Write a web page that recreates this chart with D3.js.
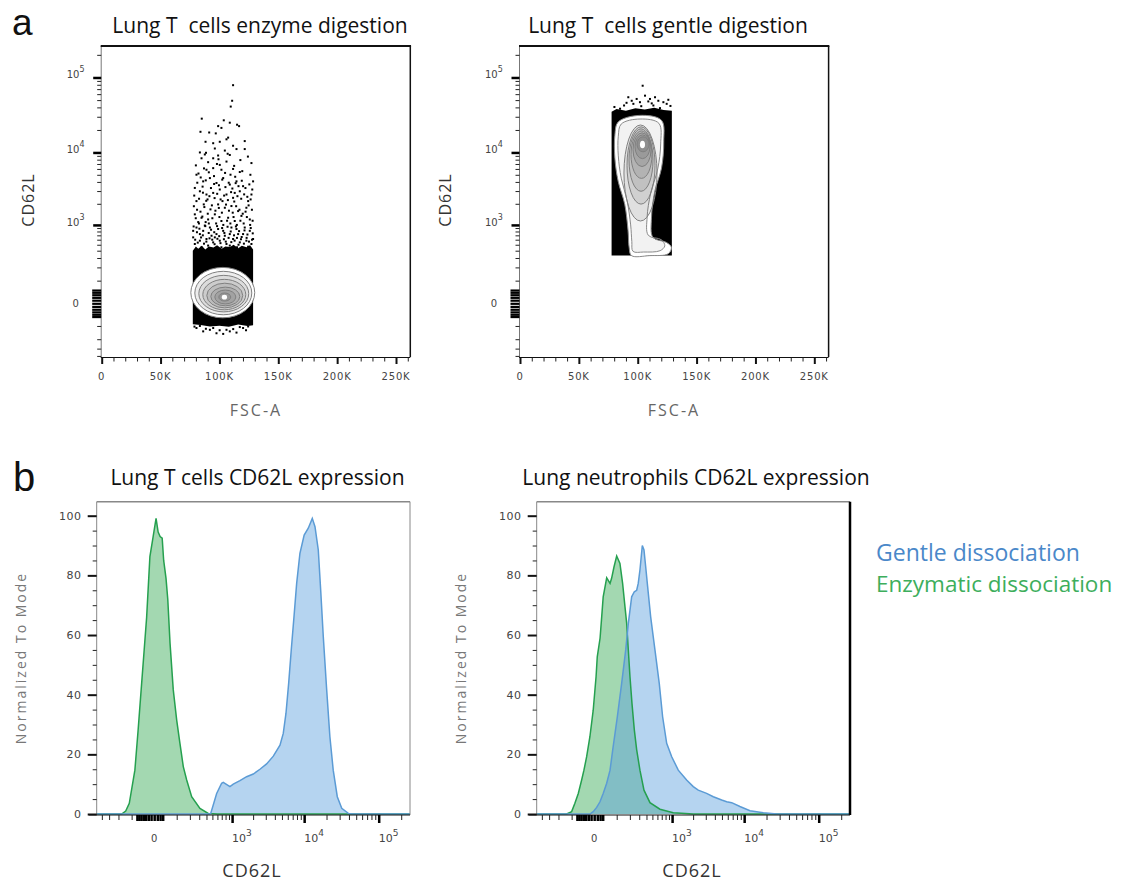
<!DOCTYPE html>
<html>
<head>
<meta charset="utf-8">
<script src="https://cdn.jsdelivr.net/npm/d3@7"></script>
<style>
  body { margin: 0; background: #fff; }
  svg { display: block; }
  text { font-family: "Open Sans", "Noto Sans", sans-serif; }
</style>
</head>
<body>
<svg id="fig" width="1134" height="881"></svg>
<script>
//1) Data

// panel a : FSC-A (linear) vs CD62L (biexponential)
const fscTicks = [0, 50000, 100000, 150000, 200000, 250000]
const fscLabels = ['0', '50K', '100K', '150K', '200K', '250K']
const cdDecades = [1e3, 1e4, 1e5]
const cdDecadeLabels = ['3', '4', '5']

// enzyme digestion : dense black core of events [FSC, CD62L]
const enzymeDense = [[77.4e3, 400], [80e3, 470], [82e3, 430], [85e3, 480], [88e3, 420], [91e3, 470], [95e3, 450],
  [98e3, 490], [102e3, 430], [105e3, 470], [109e3, 460], [112e3, 500], [116e3, 440], [119e3, 480],
  [123e3, 455], [126e3, 490], [128.6e3, 420], [128.6e3, -95], [124e3, -100], [116e3, -92], [108e3, -105],
  [100e3, -98], [92e3, -104], [84e3, -94], [77.4e3, -90]]

// enzyme digestion : single events above / below the core [FSC, CD62L]
const enzymeDots = [
  [111.6e3, 79000], [110.8e3, 49000], [109.6e3, 41000], [85.0e3, 28300], [103.7e3, 26900], [108.8e3, 25000],
  [115.0e3, 23500], [98.9e3, 22500], [101.7e3, 21300], [116.7e3, 22500], [83.9e3, 18900], [91.3e3, 18500],
  [96.9e3, 18000], [107.4e3, 15800], [121.5e3, 14200], [88.2e3, 13900], [100.3e3, 13900], [106.0e3, 15000],
  [94.7e3, 13300], [111.6e3, 12300], [114.5e3, 11100], [83.4e3, 10000], [87.6e3, 9400], [96.1e3, 11300],
  [98.9e3, 9100], [104.6e3, 10600], [108.8e3, 9250], [121.5e3, 11100], [80.0e3, 6700], [84.8e3, 8350],
  [90.4e3, 7400], [94.7e3, 6150], [100.3e3, 6800], [106.0e3, 7540], [111.6e3, 6000], [117.3e3, 5450],
  [127.2e3, 7200], [80.5e3, 5010], [86.2e3, 4070], [91.9e3, 4510], [97.5e3, 3870], [103.2e3, 4510],
  [108.8e3, 3680], [114.5e3, 4070], [120.1e3, 3500], [83.4e3, 2980], [89.0e3, 2690], [94.7e3, 2830],
  [100.3e3, 3150], [106.0e3, 2690], [111.6e3, 2420], [117.3e3, 2980], [124.4e3, 2180], [80.5e3, 2180],
  [86.7e3, 1960], [92.4e3, 1670], [98.9e3, 1960], [104.6e3, 1760], [110.2e3, 1860], [115.9e3, 1580],
  [122.9e3, 1760], [79.1e3, 1420], [84.8e3, 1270], [90.4e3, 1200], [96.1e3, 1420], [101.7e3, 1140],
  [107.4e3, 1270], [113.0e3, 1140], [118.7e3, 1350], [125.8e3, 1200], [80.5e3, 916], [86.2e3, 818],
  [91.9e3, 916], [97.5e3, 731], [103.2e3, 818], [108.8e3, 731], [114.5e3, 870], [120.1e3, 731],
  [125.8e3, 818], [77.7e3, 652], [83.4e3, 579], [89.0e3, 615], [94.7e3, 545], [100.3e3, 579],
  [106.0e3, 514], [111.6e3, 615], [117.3e3, 545], [122.9e3, 579], [127.2e3, 514], [82.0e3, 1100],
  [87.6e3, 980], [93.3e3, 690], [98.9e3, 870], [104.6e3, 690], [110.2e3, 916], [115.9e3, 731],
  [121.5e3, 916], [79.1e3, 514], [84.8e3, 455], [90.4e3, 485], [96.1e3, 652], [101.7e3, 455],
  [108.8e3, 485], [115.0e3, 455], [124.4e3, 465], [128.6e3, 615], [77.7e3, 818], [83.4e3, 731],
  [89.9e3, 2300], [102.6e3, 2180], [113.0e3, 2830], [127.2e3, 2690], [79.1e3, 3310], [128.6e3, 4070],
  [89.0e3, 5850], [109.4e3, 5010], [94.7e3, 8350], [101.7e3, 5850],
  [81.2e3, 3900], [85.7e3, 3450], [88.4e3, 4200], [92.8e3, 3300], [95.5e3, 3750], [99.6e3, 3600],
  [102.4e3, 4300], [105.1e3, 3400], [107.9e3, 3900], [111.0e3, 3250], [113.8e3, 3850], [116.2e3, 3500],
  [119.0e3, 4150], [122.1e3, 3300], [125.4e3, 3700], [127.9e3, 3150], [78.6e3, 2600], [82.7e3, 2350],
  [86.0e3, 2850], [88.8e3, 2200], [91.5e3, 2550], [95.9e3, 2400], [98.1e3, 2750], [101.0e3, 2300],
  [104.0e3, 2600], [107.2e3, 2250], [109.9e3, 2900], [112.6e3, 2150], [115.3e3, 2550], [118.5e3, 2350],
  [121.0e3, 2700], [123.7e3, 2500], [126.5e3, 2300], [78.3e3, 1850], [81.0e3, 1650], [83.9e3, 1550],
  [87.2e3, 1800], [90.1e3, 1450], [93.6e3, 1900], [96.6e3, 1600], [99.5e3, 1750], [102.1e3, 1500],
  [105.6e3, 1950], [108.1e3, 1600], [111.3e3, 1500], [114.2e3, 1850], [117.0e3, 1650], [119.8e3, 1450],
  [122.2e3, 1550], [124.8e3, 1900], [127.6e3, 1650], [79.9e3, 1250], [82.6e3, 1050], [85.5e3, 1320],
  [88.3e3, 1100], [91.0e3, 1050], [94.0e3, 1250], [97.2e3, 1050], [100.0e3, 1300], [103.3e3, 1000],
  [106.5e3, 1150], [109.3e3, 1050], [112.0e3, 1300], [114.8e3, 1000], [117.8e3, 1150], [120.6e3, 1050],
  [123.3e3, 1300], [126.1e3, 1000], [128.2e3, 1150], [78.1e3, 950], [80.9e3, 780], [83.0e3, 880],
  [85.9e3, 700], [88.0e3, 960], [90.9e3, 760], [92.9e3, 850], [95.6e3, 780], [98.0e3, 960], [99.8e3, 680],
  [102.3e3, 900], [104.2e3, 760], [106.9e3, 940], [109.6e3, 800], [112.4e3, 700], [114.0e3, 950],
  [116.7e3, 810], [118.9e3, 660], [121.3e3, 830], [123.8e3, 720], [126.6e3, 900], [128.3e3, 750],
  [79.4e3, 600], [81.6e3, 540], [84.4e3, 650], [86.9e3, 520], [88.9e3, 560], [91.6e3, 630], [93.9e3, 600],
  [95.9e3, 510], [98.3e3, 620], [100.9e3, 530], [103.8e3, 610], [105.4e3, 560], [107.8e3, 640],
  [110.1e3, 550], [112.9e3, 580], [114.9e3, 640], [116.2e3, 500], [118.3e3, 610], [120.8e3, 520],
  [123.1e3, 640], [125.1e3, 560], [127.7e3, 600], [82.2e3, 5200], [86.9e3, 6100], [91.0e3, 5400],
  [97.9e3, 7000], [104.8e3, 5300], [112.5e3, 6600], [119.4e3, 5600], [124.2e3, 8800], [88.6e3, 9900],
  [99.2e3, 8100], [107.0e3, 9600], [117.8e3, 7900], [84.1e3, 4600], [95.4e3, 4800], [113.4e3, 4700],
  [126.3e3, 5000],
  [80.5e3, -113], [86.2e3, -136], [91.9e3, -125], [97.5e3, -150], [103.2e3, -155], [108.8e3, -136],
  [114.5e3, -145], [120.1e3, -113], [83.4e3, -100], [94.7e3, -113], [106.0e3, -125], [117.3e3, -107],
  [124.4e3, -103], [88.5e3, -118], [100.2e3, -128], [111.7e3, -120], [122.6e3, -128], [78.8e3, -104]]

// enzyme digestion : contour levels, outermost first [FSC lo, FSC hi, CD62L lo, CD62L hi]
const enzymeRings = [
  [75.7e3, 130.0e3, -56, 200], [79.1e3, 127.5e3, -42, 166], [82.5e3, 124.9e3, -30, 135],
  [85.9e3, 122.4e3, -22, 108], [89.3e3, 119.8e3, -15, 85], [92.7e3, 117.3e3, -8, 64],
  [96.1e3, 113.9e3, -2, 50], [99.5e3, 109.6e3, 7, 37]]
const enzymeCore = [102.0e3, 106.5e3, 12, 30]

// gentle digestion
const gentleDense = [[77.8e3, 330], [77.8e3, 35000], [82e3, 38000], [90e3, 36000], [98e3, 39000], [106e3, 37500],
  [114e3, 39500], [122e3, 37000], [129e3, 36000], [129e3, 330]]

const gentleDots = [
  [104.2e3, 77700], [92.0e3, 54600], [99.1e3, 51800], [106.2e3, 57300], [110.4e3, 51800], [117.5e3, 49000],
  [121.8e3, 46900], [126.0e3, 50500], [85.0e3, 38400], [88.4e3, 42400], [96.3e3, 44600], [101.9e3, 46900],
  [113.3e3, 42400], [118.9e3, 39100], [124.6e3, 44600], [82.1e3, 34800], [109.0e3, 48000], [114.7e3, 54600],
  [94.9e3, 49000], [80.2e3, 40500], [90.5e3, 46000], [103.0e3, 41500], [111.9e3, 45200], [127.8e3, 41800]]

// gentle digestion : two outer contours traced as outlines [FSC, CD62L]
const gentleOuter = [
  [[83.4e3, 25600], [101.8e3, 31300], [120.2e3, 26900], [122.1e3, 13900], [120.2e3, 6140], [114.5e3, 2980],
   [111.7e3, 1270], [113.0e3, 650], [124.4e3, 544], [128.6e3, 454], [125.8e3, 354], [110.2e3, 330],
   [94.7e3, 330], [92.7e3, 454], [91.8e3, 820], [89.0e3, 1960], [83.4e3, 4070], [80.6e3, 8350], [80.6e3, 17000]],
  [[86e3, 24000], [102e3, 28000], [118e3, 24500], [119.5e3, 13000], [117e3, 6000], [111e3, 2800],
   [108e3, 1300], [109e3, 700], [120e3, 600], [123e3, 480], [119e3, 400], [105e3, 380], [96e3, 390],
   [95e3, 560], [94e3, 1000], [91e3, 2200], [86e3, 4500], [83.5e3, 9000], [83.5e3, 16500]]]

// gentle digestion : inner contour levels [FSC lo, FSC hi, CD62L lo, CD62L hi]
const gentleRings = [
  [88.3e3, 116.4e3, 1140, 23300], [90.9e3, 114.7e3, 1980, 22000], [92.6e3, 113.0e3, 2980, 20700],
  [94.3e3, 112.1e3, 4470, 19400], [96.0e3, 111.3e3, 6460, 18300], [97.7e3, 110.4e3, 8260, 17200],
  [99.4e3, 109.6e3, 10200, 16200]]
const gentleCore = [101.9e3, 106.2e3, 11400, 14400]

// panel b : histograms [CD62L, % of mode]
const modeTicks = [0, 20, 40, 60, 80, 100]

const tcellEnzymatic = [[-486, 0], [-172, 0], [-140, 1], [-115, 3.6], [-81, 14.7], [-64, 28], [-47, 43.8],
  [-36, 55], [-26, 66], [-14, 86.3], [-5, 91.8], [6, 99.1], [13, 94.5], [20, 93], [28, 92.5], [34, 85],
  [44, 79], [52, 72], [63, 57.2], [80, 41.6], [100, 31.5], [121, 23.7], [145, 15.9], [172, 11.4],
  [217, 5.8], [309, 1.9], [428, 0.2], [600, 0], [262144, 0]]

const tcellGentle = [[-486, 0], [440, 0], [470, 0.2], [584, 6.9], [697, 10.3], [738, 10.6], [930, 9.2],
  [1040, 10], [1300, 11.2], [1620, 12.5], [2010, 13.4], [2490, 15], [3080, 16.8], [3810, 19.4],
  [4700, 23.1], [5210, 27], [5670, 33.7], [6170, 43.8], [6690, 55], [7280, 66], [7920, 77.3],
  [8770, 87.4], [10000, 93.5], [11360, 95.8], [12870, 99.1], [14000, 96.3], [15500, 88.5], [16700, 75],
  [18100, 59.4], [20100, 41.6], [22200, 25.9], [24600, 14.7], [27900, 5.8], [32000, 1.9], [39200, 0.2],
  [45000, 0], [262144, 0]]

const neutroEnzymatic = [[-486, 0], [-133, 0], [-100, 0.8], [-81, 3.6], [-63, 6.9], [-47, 11.4], [-37, 14.7],
  [-26, 19.2], [-14, 25.9], [-3, 34.8], [6, 46], [10, 52.7], [20, 59], [26, 66], [32, 72.8], [47, 79.2],
  [63, 77.3], [71, 79], [84, 82.8], [100, 86.5], [121, 84], [140, 77.3], [158, 69.5], [172, 63.9],
  [186, 55], [201, 46], [220, 37.1], [244, 28.2], [270, 21.5], [309, 14.7], [363, 8], [457, 3.8],
  [657, 1.6], [1040, 0.45], [2010, 0], [262144, 0]]

const neutroGentle = [[-486, 0], [-14, 0], [-3, 0.8], [8, 2.2], [19.6, 4.1], [32, 6.9], [47, 10.3],
  [63, 14.7], [77, 21.5], [90, 27], [104, 32.6], [133, 43.8], [164, 55], [186, 63.9], [217, 72.8],
  [244, 74.5], [270, 75], [288, 77.3], [309, 81.8], [340, 90], [363, 88.5], [388, 82.9], [413, 77.3],
  [469, 66.1], [549, 55], [641, 43.8], [722, 32.6], [831, 23.7], [987, 19.2], [1230, 14.7], [1620, 11.4],
  [2010, 9.2], [2360, 8], [3080, 6.9], [3810, 5.8], [4960, 4.7], [5800, 4.1], [6780, 3.8], [8770, 2.5],
  [11980, 1.1], [18100, 0.45], [27400, 0], [262144, 0]]

const legendNames = ['Gentle dissociation', 'Enzymatic dissociation']

//2) Styles
const blue = { line: '#5b9bd5', fill: 'rgba(91,160,222,0.45)', text: '#4a88c9' }
const green = { line: '#25a04f', fill: 'rgba(52,168,83,0.45)', text: '#3dae5c' }

const svg = d3.select('#fig')

// biexponential-like axis ticks
const negMinor = [-400, -300, -200, -100]
const posMinor = [100, 200, 300, 400, 500, 600, 700, 800, 900]
  .concat(d3.range(2, 10).map(k => k * 1000), d3.range(2, 10).map(k => k * 10000), [200000])

function superLabel(g, x, y, anchor, exp, size) {
  const t = g.append('text')
    .attr('x', x).attr('y', y)
    .attr('text-anchor', anchor)
    .attr('fill', '#444')
    .style('font-family', '"DejaVu Sans", sans-serif')
    .style('font-size', size + 'px')
  t.append('tspan').text('10')
  t.append('tspan').attr('dy', -6).style('font-size', (size - 2) + 'px').text(exp)
}

//3) Panel a : dot / contour plots
const aPanels = [
  { left: 101.7, right: 410.3, title: 'Lung T  cells enzyme digestion', titleX: 260, yLabelX: 27.5, xLabelX: 256,
    dense: enzymeDense, dots: enzymeDots, outer: [], rings: enzymeRings, core: enzymeCore },
  { left: 520, right: 828.6, title: 'Lung T  cells gentle digestion', titleX: 668, yLabelX: 445, xLabelX: 674,
    dense: gentleDense, dots: gentleDots, outer: gentleOuter, rings: gentleRings, core: gentleCore }
]

aPanels.forEach((p, i) => {
  const x = d3.scaleLinear().domain([0, 262144]).range([p.left, p.right])
  const y = d3.scaleSymlog().constant(100).domain([-417, 262144]).range([357, 46])
  const g = svg.append('g')

  const pts = d => d.map(v => [x(v[0]), y(v[1])])

  // events
  g.append('path')
    .attr('d', d3.line()(pts(p.dense)) + 'Z')
    .attr('fill', '#000')
  g.selectAll('rect.dot').data(p.dots).join('rect')
    .attr('class', 'dot')
    .attr('x', d => x(d[0]) - 1).attr('y', d => y(d[1]) - 1)
    .attr('width', 2).attr('height', 2)
    .attr('fill', '#000')

  // contours
  const smooth = d3.line().curve(d3.curveCatmullRomClosed.alpha(0.5))
  p.outer.forEach((c, k) => {
    g.append('path')
      .attr('d', smooth(pts(c)))
      .attr('fill', k === 0 ? '#fff' : 'rgba(0,0,0,0.05)')
      .attr('stroke', '#8a8a8a').attr('stroke-width', 1)
  })
  const ell = r => ({
    cx: (x(r[0]) + x(r[1])) / 2, rx: Math.abs(x(r[1]) - x(r[0])) / 2,
    cy: (y(r[2]) + y(r[3])) / 2, ry: Math.abs(y(r[3]) - y(r[2])) / 2
  })
  g.selectAll('ellipse.ring').data(p.rings).join('ellipse')
    .attr('class', 'ring')
    .each(function (r, k) {
      const e = ell(r)
      d3.select(this).attr('cx', e.cx).attr('cy', e.cy).attr('rx', e.rx).attr('ry', e.ry)
        .attr('fill', (k === 0 && p.outer.length === 0) ? '#fff' : 'rgba(0,0,0,0.07)')
        .attr('stroke', '#808080').attr('stroke-width', 1)
    })
  const ce = ell(p.core)
  g.append('ellipse').attr('cx', ce.cx).attr('cy', ce.cy).attr('rx', ce.rx).attr('ry', ce.ry)
    .attr('fill', '#fff')

  // frame
  g.append('line').attr('x1', p.left - 0.5).attr('x2', p.left - 0.5).attr('y1', 46).attr('y2', 357)
    .attr('stroke', '#777').attr('stroke-width', 1)
  g.append('line').attr('x1', p.right).attr('x2', p.right).attr('y1', 46).attr('y2', 357)
    .attr('stroke', '#111').attr('stroke-width', 1.5)
  g.append('line').attr('x1', p.left - 1).attr('x2', p.right + 0.75).attr('y1', 46).attr('y2', 46)
    .attr('stroke', '#111').attr('stroke-width', 2)
  g.append('line').attr('x1', p.left - 1).attr('x2', p.right).attr('y1', 357.5).attr('y2', 357.5)
    .attr('stroke', '#111').attr('stroke-width', 1)

  // x axis
  const xMinor = d3.range(10000, 262144, 10000).filter(v => v % 50000 !== 0)
  g.append('g').attr('transform', 'translate(0,357.5)')
    .call(d3.axisBottom(x).tickValues(xMinor).tickSize(4).tickSizeOuter(0).tickFormat(''))
    .call(a => a.select('.domain').remove())
    .call(a => a.selectAll('line').attr('stroke', '#222'))
  g.append('g').attr('transform', 'translate(0,357.5)')
    .call(d3.axisBottom(x).tickValues(fscTicks).tickSize(6.5).tickSizeOuter(0).tickFormat(''))
    .call(a => a.select('.domain').remove())
    .call(a => a.selectAll('line').attr('stroke', '#111').attr('stroke-width', 2))
  g.selectAll('text.xtick').data(fscTicks).join('text')
    .attr('class', 'xtick')
    .attr('x', d => x(d)).attr('y', 380)
    .attr('text-anchor', 'middle').attr('fill', '#444')
    .style('font-family', '"DejaVu Sans", sans-serif').style('font-size', '10px')
    .style('letter-spacing', '0.8px')
    .text((d, k) => fscLabels[k])

  // y axis
  g.append('g').attr('transform', `translate(${p.left - 0.5},0)`)
    .call(d3.axisLeft(y).tickValues(negMinor.concat(posMinor)).tickSize(4).tickSizeOuter(0).tickFormat(''))
    .call(a => a.select('.domain').remove())
    .call(a => a.selectAll('line').attr('stroke', '#222'))
  g.append('g').attr('transform', `translate(${p.left - 0.5},0)`)
    .call(d3.axisLeft(y).tickValues(d3.range(-50, 51, 10)).tickSize(9).tickSizeOuter(0).tickFormat(''))
    .call(a => a.select('.domain').remove())
    .call(a => a.selectAll('line').attr('stroke', '#000').attr('stroke-width', 2.2))
  g.append('g').attr('transform', `translate(${p.left - 0.5},0)`)
    .call(d3.axisLeft(y).tickValues(cdDecades).tickSize(8).tickSizeOuter(0).tickFormat(''))
    .call(a => a.select('.domain').remove())
    .call(a => a.selectAll('line').attr('stroke', '#000').attr('stroke-width', 2.5))
  cdDecades.forEach((d, k) => superLabel(g, p.left - 35, y(d) + 1, 'start', cdDecadeLabels[k], 10))
  g.append('text').attr('x', p.left - 26).attr('y', y(0) + 3.5)
    .attr('text-anchor', 'middle').attr('fill', '#444')
    .style('font-family', '"DejaVu Sans", sans-serif').style('font-size', '10px').text('0')

  // labels
  g.append('text').attr('x', p.titleX).attr('y', 33)
    .attr('text-anchor', 'middle').attr('fill', '#111')
    .style('font-size', '21px').style('white-space', 'pre')
    .text(p.title)
  g.append('text').attr('transform', `translate(${p.yLabelX + 6},200) rotate(-90)`)
    .attr('text-anchor', 'middle').attr('fill', '#333')
    .style('font-size', '16px').style('letter-spacing', '1px')
    .text('CD62L')
  g.append('text').attr('x', p.xLabelX).attr('y', 416)
    .attr('text-anchor', 'middle').attr('fill', '#666')
    .style('font-size', '16px').style('letter-spacing', '2px')
    .text('FSC-A')
})

//4) Panel b : CD62L histograms
const bPanels = [
  { left: 96.7, title: 'Lung T cells CD62L expression', titleX: 257.5, yLabelX: 21, xLabelX: 252,
    green: tcellEnzymatic, blue: tcellGentle, rightStroke: '#888', rightWidth: 1 },
  { left: 536.7, title: 'Lung neutrophils CD62L expression', titleX: 696, yLabelX: 461, xLabelX: 692,
    green: neutroEnzymatic, blue: neutroGentle, rightStroke: '#000', rightWidth: 2.5 }
]

bPanels.forEach(p => {
  const right = p.left + 313.3
  const x = d3.scaleSymlog().constant(100).domain([-486, 262144]).range([p.left, right])
  const y = d3.scaleLinear().domain([0, 100]).range([814, 515.7])
  const top = y(104.7)
  const g = svg.append('g')

  const area = d3.area().x(d => x(d[0])).y0(y(0)).y1(d => y(d[1]))
  const line = d3.line().x(d => x(d[0])).y(d => y(d[1]))

  g.append('path').attr('d', area(p.green)).attr('fill', green.fill)
  g.append('path').attr('d', area(p.blue)).attr('fill', blue.fill)
  g.append('path').attr('d', line(p.green)).attr('fill', 'none')
    .attr('stroke', green.line).attr('stroke-width', 1.5)
  g.append('path').attr('d', line(p.blue)).attr('fill', 'none')
    .attr('stroke', blue.line).attr('stroke-width', 1.5)

  // frame
  g.append('line').attr('x1', p.left).attr('x2', right).attr('y1', top).attr('y2', top)
    .attr('stroke', '#888').attr('stroke-width', 1.5)
  g.append('line').attr('x1', p.left).attr('x2', p.left).attr('y1', top).attr('y2', 815)
    .attr('stroke', '#888').attr('stroke-width', 1)
  g.append('line').attr('x1', right).attr('x2', right).attr('y1', top).attr('y2', 815)
    .attr('stroke', p.rightStroke).attr('stroke-width', p.rightWidth)
  g.append('line').attr('x1', p.left - 8).attr('x2', right).attr('y1', 815).attr('y2', 815)
    .attr('stroke', '#111').attr('stroke-width', 1.2)

  // y axis
  const yMinor = d3.range(5, 101, 5).filter(v => v % 20 !== 0)
  g.append('g').attr('transform', `translate(${p.left},0)`)
    .call(d3.axisLeft(y).tickValues(yMinor).tickSize(4).tickSizeOuter(0).tickFormat(''))
    .call(a => a.select('.domain').remove())
    .call(a => a.selectAll('line').attr('stroke', '#222'))
  g.append('g').attr('transform', `translate(${p.left},0)`)
    .call(d3.axisLeft(y).tickValues(modeTicks).tickSize(9).tickSizeOuter(0).tickFormat(''))
    .call(a => a.select('.domain').remove())
    .call(a => a.selectAll('line').attr('stroke', '#111').attr('stroke-width', 2))
  g.selectAll('text.ytick').data(modeTicks).join('text')
    .attr('class', 'ytick')
    .attr('x', p.left - 15).attr('y', d => y(d) + 4)
    .attr('text-anchor', 'end').attr('fill', '#444')
    .style('font-family', '"DejaVu Sans", sans-serif').style('font-size', '11px')
    .style('letter-spacing', '0.6px')
    .text(d => d)

  // x axis
  g.append('g').attr('transform', 'translate(0,815)')
    .call(d3.axisBottom(x).tickValues(negMinor.concat(posMinor)).tickSize(5).tickSizeOuter(0).tickFormat(''))
    .call(a => a.select('.domain').remove())
    .call(a => a.selectAll('line').attr('stroke', '#222'))
  g.append('g').attr('transform', 'translate(0,815)')
    .call(d3.axisBottom(x).tickValues(d3.range(-70, 31, 10)).tickSize(6).tickSizeOuter(0).tickFormat(''))
    .call(a => a.select('.domain').remove())
    .call(a => a.selectAll('line').attr('stroke', '#000').attr('stroke-width', 2.5))
  g.append('g').attr('transform', 'translate(0,815)')
    .call(d3.axisBottom(x).tickValues(cdDecades).tickSize(8).tickSizeOuter(0).tickFormat(''))
    .call(a => a.select('.domain').remove())
    .call(a => a.selectAll('line').attr('stroke', '#000').attr('stroke-width', 2.5))
  cdDecades.forEach((d, k) => superLabel(g, x(d), 842, 'start', cdDecadeLabels[k], 11))
  g.append('text').attr('x', x(0)).attr('y', 842)
    .attr('text-anchor', 'middle').attr('fill', '#444')
    .style('font-family', '"DejaVu Sans", sans-serif').style('font-size', '10px').text('0')

  // labels
  g.append('text').attr('x', p.titleX).attr('y', 485)
    .attr('text-anchor', 'middle').attr('fill', '#111')
    .style('font-size', '21px')
    .text(p.title)
  g.append('text').attr('transform', `translate(${p.yLabelX + 5},658) rotate(-90)`)
    .attr('text-anchor', 'middle').attr('fill', '#777')
    .style('font-size', '14px').style('letter-spacing', '2px')
    .text('Normalized To Mode')
  g.append('text').attr('x', p.xLabelX).attr('y', 877)
    .attr('text-anchor', 'middle').attr('fill', '#333')
    .style('font-size', '18px').style('letter-spacing', '1px')
    .text('CD62L')
})

//5) Panel letters and legend
svg.append('text').attr('x', 12).attr('y', 34.5).attr('fill', '#111')
  .style('font-family', '"Liberation Sans", sans-serif').style('font-size', '37px').text('a')
svg.append('text').attr('x', 13).attr('y', 491).attr('fill', '#111')
  .style('font-family', '"Liberation Sans", sans-serif').style('font-size', '40px').text('b')

svg.selectAll('text.legend').data(legendNames).join('text')
  .attr('class', 'legend')
  .attr('x', 876).attr('y', (d, i) => 561 + i * 31)
  .attr('fill', (d, i) => i === 0 ? blue.text : green.text)
  .style('font-size', (d, i) => i === 0 ? '23px' : '22.5px')
  .text(d => d)
</script>
</body>
</html>
